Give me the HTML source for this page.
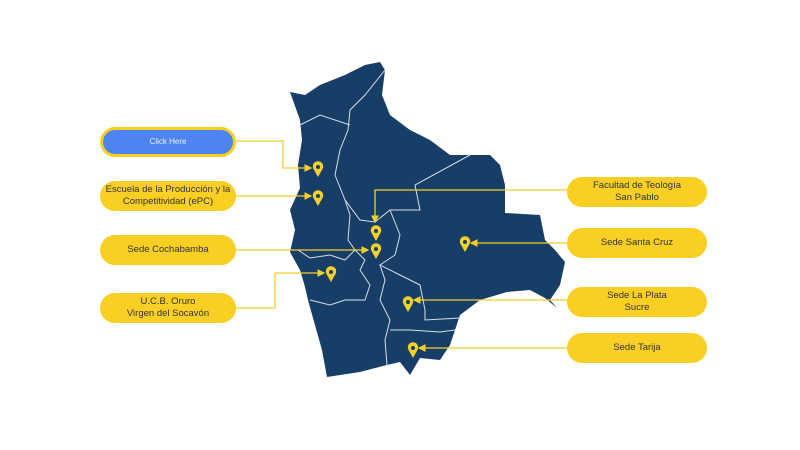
<!DOCTYPE html>
<html><head><style>
body{margin:0;background:#fff;font-family:"Liberation Sans",sans-serif}
.p{position:absolute;background:#f9cf24;border-radius:15px;color:#333;font-size:9.5px;display:flex;align-items:center;justify-content:center;text-align:center;line-height:12px}
</style></head><body>
<div style="position:relative;width:800px;height:450px;overflow:hidden">
<svg width="800" height="450" style="position:absolute;left:0;top:0">
<defs>
<g id="pin"><path d="M0,0 C-6,0 -6,-8 0,-13 C6,-8 6,0 0,0Z" transform="translate(0,0)" fill="none"/><path d="M0,7 L-4.5,-1 A5.2,5.2 0 1 1 4.5,-1 Z" fill="#f5cf2a"/><circle cx="0" cy="-3" r="2" fill="#173e66"/></g>
<marker id="a" markerWidth="6" markerHeight="6" refX="5" refY="3" orient="auto"><path d="M0,0 L6,3 L0,6Z" fill="#f5cf2a"/></marker>
</defs>
<path d="M290,92 L305,95 L320,85 L345,75 L365,65 L380,62 L385,70 L382,95 L390,115 L410,130 L430,140 L450,155 L470,155 L490,155 L500,165 L505,185 L505,213 L540,215 L545,240 L555,250 L565,262 L560,285 L550,300 L557,308 L545,298 L530,290 L507,292 L480,300 L460,315 L455,330 L450,345 L440,360 L420,358 L410,375 L400,362 L387,365 L360,372 L327,377 L322,350 L313,318 L308,300 L305,287 L300,270 L290,252 L295,230 L290,210 L300,188 L298,165 L302,140 L300,120 Z" fill="#173e66"/>
<g fill="none" stroke="#d8dde6" stroke-width="1">
<path d="M385,70 L365,95 L350,110 L348,130 L340,150 L335,175 L345,200 L360,220 L375,222 L390,210 L420,210 L415,185 L470,155"/>
<path d="M300,125 L320,115 L350,125"/>
<path d="M345,200 L350,215 L348,240 L355,250 L345,260 L330,255 L310,258 L298,250"/>
<path d="M390,210 L400,235 L395,255 L380,265 L400,275 L420,285 L425,310 L425,320 L460,318"/>
<path d="M355,250 L365,260 L360,270 L370,285 L365,300 L345,300 L330,305 L310,300"/>
<path d="M380,265 L385,280 L380,300 L390,320 L385,340 L387,365"/>
<path d="M390,330 L410,330 L440,332 L455,330"/>
</g>
<g fill="none" stroke="#f5cf2a" stroke-width="1.3">
<path d="M236,141 H283 V168 H311" marker-end="url(#a)"/>
<path d="M236,196 H311" marker-end="url(#a)"/>
<path d="M236,250 H368" marker-end="url(#a)"/>
<path d="M236,308 H275 V273 H324" marker-end="url(#a)"/>
<path d="M567,190 H375 V222" marker-end="url(#a)"/>
<path d="M567,243 H471" marker-end="url(#a)"/>
<path d="M567,300 H414" marker-end="url(#a)"/>
<path d="M567,348 H419" marker-end="url(#a)"/>
</g>
<use href="#pin" x="318" y="170"/>
<use href="#pin" x="318" y="199"/>
<use href="#pin" x="376" y="234"/>
<use href="#pin" x="376" y="252"/>
<use href="#pin" x="331" y="275"/>
<use href="#pin" x="465" y="245"/>
<use href="#pin" x="408" y="305"/>
<use href="#pin" x="413" y="351"/>
</svg>
<div class="p" style="left:100px;top:127px;width:130px;height:24px;background:#4d84f0;border:3px solid #f9cf24;color:#e8eefc;font-size:8px">Click Here</div>
<div class="p" style="left:100px;top:181px;width:136px;height:30px">Escuela de la Producción y la<br>Competitividad (ePC)</div>
<div class="p" style="left:100px;top:235px;width:136px;height:30px">Sede Cochabamba</div>
<div class="p" style="left:100px;top:293px;width:136px;height:30px">U.C.B. Oruro<br>Virgen del Socavón</div>
<div class="p" style="left:567px;top:177px;width:140px;height:30px">Facultad de Teología<br>San Pablo</div>
<div class="p" style="left:567px;top:228px;width:140px;height:30px">Sede Santa Cruz</div>
<div class="p" style="left:567px;top:287px;width:140px;height:30px">Sede La Plata<br>Sucre</div>
<div class="p" style="left:567px;top:333px;width:140px;height:30px">Sede Tarija</div>
</div>
</body></html>
